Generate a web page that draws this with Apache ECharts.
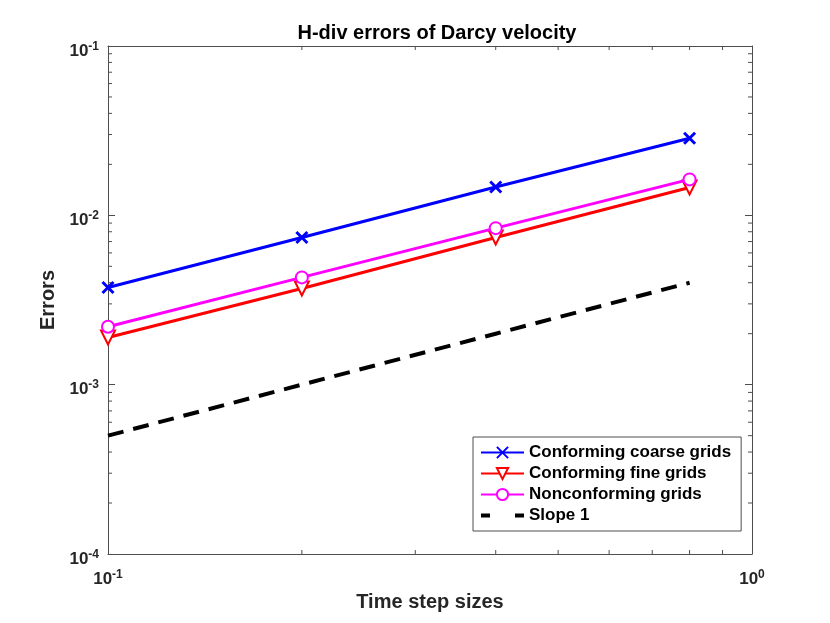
<!DOCTYPE html>
<html>
<head>
<meta charset="utf-8">
<script src="https://cdn.jsdelivr.net/npm/echarts@6/dist/echarts.min.js"></script>
<style>
  html, body { margin: 0; padding: 0; background: #fff; }
  #chart { width: 830px; height: 623px; }
</style>
</head>
<body>
<div id="chart"></div>
<script>
// 时间步长 (x) 与各网格的误差
var stepSizes = [0.1, 0.2, 0.4, 0.8];
var coarseErrors = [3.75e-3, 7.4e-3, 1.47e-2, 2.85e-2];
var fineErrors = [1.9e-3, 3.7e-3, 7.4e-3, 1.46e-2];
var nonconfErrors = [2.2e-3, 4.3e-3, 8.4e-3, 1.63e-2];
var slopeRef = [5e-4, 1e-3, 2e-3, 4e-3];

var xTicks = [0.1, 1];
var yTicks = [1e-4, 1e-3, 1e-2, 1e-1];
// 对数轴的次刻度
var xMinorTicks = [0.2, 0.3, 0.4, 0.5, 0.6, 0.7, 0.8, 0.9];
var yMinorTicks = [2e-4, 3e-4, 4e-4, 5e-4, 6e-4, 7e-4, 8e-4, 9e-4,
                   2e-3, 3e-3, 4e-3, 5e-3, 6e-3, 7e-3, 8e-3, 9e-3,
                   2e-2, 3e-2, 4e-2, 5e-2, 6e-2, 7e-2, 8e-2, 9e-2];

var AXIS_COLOR = '#4d4d4d';
var TEXT_COLOR = '#262626';
var FONT = 'Liberation Sans, Arial, sans-serif';

var pair = function (xs, ys) {
  return xs.map(function (x, i) { return [x, ys[i]]; });
};

var powLabel = function (v) {
  var e = Math.round(Math.log10(v));
  return '{b|10}{s|' + e + '}';
};

var labelRich = {
  b: { fontSize: 17, fontWeight: 'bold', color: TEXT_COLOR, fontFamily: FONT },
  s: { fontSize: 12, fontWeight: 'bold', color: TEXT_COLOR, fontFamily: FONT, padding: [0, 0, 9, 0] }
};

var tickLine = function (p1, p2) {
  return {
    type: 'line',
    shape: { x1: p1[0], y1: p1[1], x2: p2[0], y2: p2[1] },
    style: { stroke: AXIS_COLOR, lineWidth: 1 }
  };
};

// 次刻度：用坐标轴自己的比例尺画在四条边上
var renderYMinor = function (params, api) {
  var v = api.value(1);
  var l = api.coord([0.1, v]);
  var r = api.coord([1, v]);
  return {
    type: 'group',
    children: [
      tickLine(l, [l[0] + 4, l[1]]),
      tickLine(r, [r[0] - 4, r[1]])
    ]
  };
};

var renderXMinor = function (params, api) {
  var v = api.value(0);
  var b = api.coord([v, 1e-4]);
  var t = api.coord([v, 1e-1]);
  return {
    type: 'group',
    children: [
      tickLine(b, [b[0], b[1] - 4]),
      tickLine(t, [t[0], t[1] + 4])
    ]
  };
};

var baseAxis = {
  type: 'log',
  logBase: 10,
  axisLine: { show: true, onZero: false, lineStyle: { color: AXIS_COLOR, width: 1 } },
  axisTick: { show: true, inside: true, length: 7, lineStyle: { color: AXIS_COLOR } },
  splitLine: { show: false },
  minorTick: { show: false }
};

var option = {
  backgroundColor: '#ffffff',
  animation: false,
  title: {
    text: 'H-div errors of Darcy velocity',
    left: 432,
    top: 18,
    textAlign: 'center',
    textStyle: { fontSize: 20, fontWeight: 'bold', color: '#000', fontFamily: FONT }
  },
  grid: { left: 108, right: 78, top: 46, bottom: 69, containLabel: false },
  legend: {
    orient: 'vertical',
    left: 473,
    top: 437,
    itemWidth: 43,
    itemHeight: 14,
    itemGap: 4,
    padding: [7, 10, 7, 6],
    backgroundColor: '#fff',
    borderColor: '#4d4d4d',
    borderWidth: 1,
    borderRadius: 0,
    textStyle: { fontSize: 17, fontWeight: 'bold', color: '#000', fontFamily: FONT },
    data: [
      'Conforming coarse grids',
      'Conforming fine grids',
      'Nonconforming grids',
      { name: 'Slope 1', itemStyle: { opacity: 0 }, lineStyle: { type: [9, 25], width: 4 } }
    ]
  },
  xAxis: [
    Object.assign({}, baseAxis, {
      position: 'bottom',
      min: 0.1,
      max: 1,
      name: 'Time step sizes',
      nameLocation: 'middle',
      nameGap: 35,
      nameTextStyle: { fontSize: 20, fontWeight: 'bold', color: TEXT_COLOR, fontFamily: FONT },
      axisLabel: { margin: 15, formatter: powLabel, rich: labelRich }
    }),
    Object.assign({}, baseAxis, {
      position: 'top',
      min: 0.1,
      max: 1,
      axisLabel: { show: false }
    })
  ],
  yAxis: [
    Object.assign({}, baseAxis, {
      position: 'left',
      min: 1e-4,
      max: 1e-1,
      name: 'Errors',
      nameLocation: 'middle',
      nameRotate: 90,
      nameGap: 48,
      nameTextStyle: { fontSize: 20, fontWeight: 'bold', color: TEXT_COLOR, fontFamily: FONT },
      axisLabel: { margin: 9, padding: [10, 0, 0, 0], formatter: powLabel, rich: labelRich }
    }),
    Object.assign({}, baseAxis, {
      position: 'right',
      min: 1e-4,
      max: 1e-1,
      axisLabel: { show: false }
    })
  ],
  series: [
    {
      name: 'Conforming coarse grids',
      type: 'line',
      data: pair(stepSizes, coarseErrors),
      symbol: 'path://M0,0L10,10M10,0L0,10',
      symbolSize: 11,
      lineStyle: { color: '#0000ff', width: 3 },
      itemStyle: { color: '#0000ff', borderColor: '#0000ff', borderWidth: 3 },
      z: 5
    },
    {
      name: 'Conforming fine grids',
      type: 'line',
      data: pair(stepSizes, fineErrors),
      symbol: 'emptyTriangle',
      symbolRotate: 180,
      symbolSize: 14,
      lineStyle: { color: '#ff0000', width: 3 },
      itemStyle: { color: '#ff0000', borderColor: '#ff0000', borderWidth: 2.5 },
      z: 4
    },
    {
      name: 'Nonconforming grids',
      type: 'line',
      data: pair(stepSizes, nonconfErrors),
      symbol: 'emptyCircle',
      symbolSize: 12,
      lineStyle: { color: '#ff00ff', width: 3 },
      itemStyle: { color: '#ff00ff', borderColor: '#ff00ff', borderWidth: 2.5 },
      z: 6
    },
    {
      name: 'Slope 1',
      type: 'line',
      data: pair(stepSizes, slopeRef),
      symbol: 'none',
      lineStyle: { color: '#000', width: 4, type: [16, 10] },
      itemStyle: { color: '#000' },
      z: 3
    },
    {
      type: 'custom',
      silent: true,
      renderItem: renderYMinor,
      data: yMinorTicks.map(function (v) { return [0.1, v]; }),
      z: 2
    },
    {
      type: 'custom',
      silent: true,
      renderItem: renderXMinor,
      data: xMinorTicks.map(function (v) { return [v, 1e-4]; }),
      z: 2
    }
  ]
};

var myChart = echarts.init(document.getElementById('chart'));
myChart.setOption(option);
</script>
</body>
</html>
